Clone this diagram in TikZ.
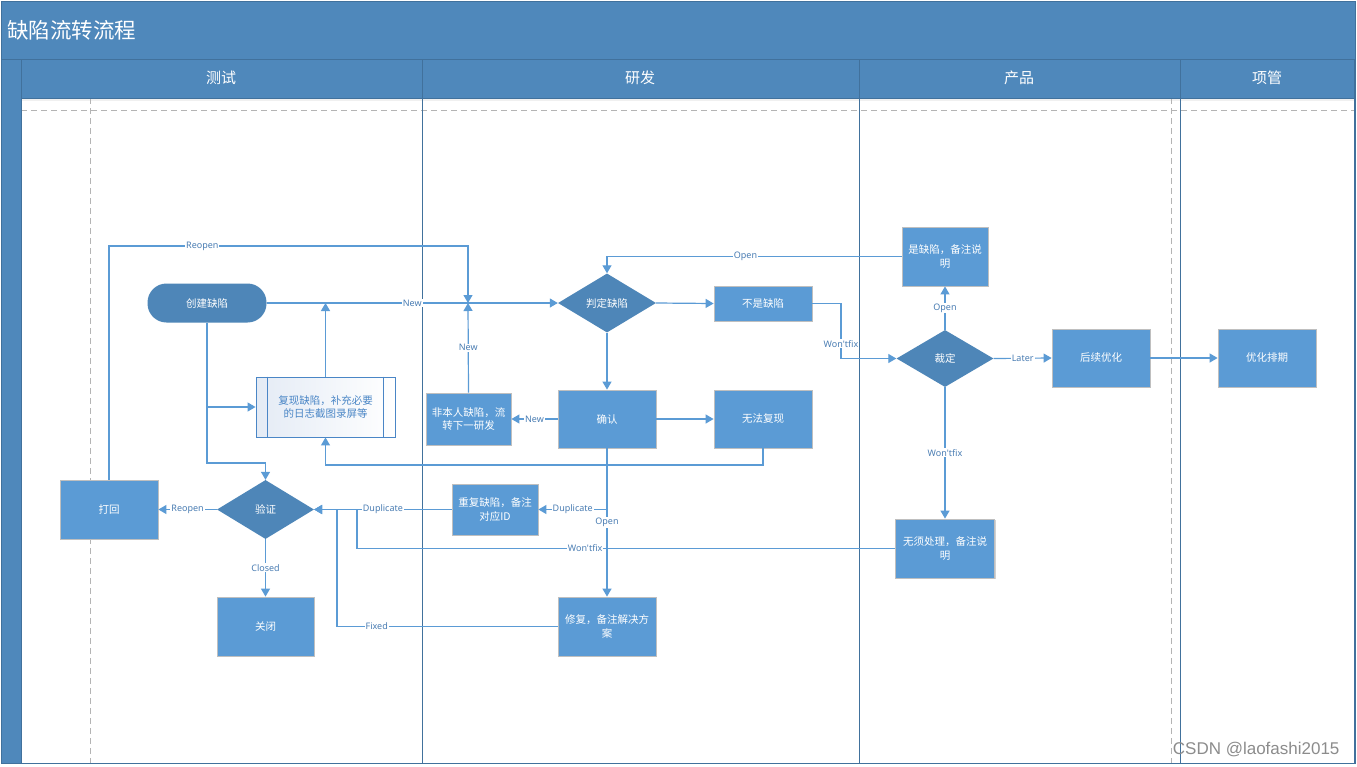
\documentclass[tikz,border=0pt]{standalone}
\usepackage{fontspec}
\setmainfont{Noto Sans CJK SC}
\newfontfamily\wmfont{Liberation Sans}
\newfontfamily\lblfont{Noto Sans}
\usetikzlibrary{shapes.geometric,arrows.meta,shadows}
\definecolor{hdrblue}{HTML}{4F88BB}
\definecolor{frameblue}{HTML}{41719C}
\definecolor{boxblue}{HTML}{5B9BD5}
\definecolor{boxedge}{HTML}{BFBFBF}
\definecolor{diablue}{HTML}{4E86B8}
\definecolor{linkblue}{HTML}{5B9BD5}
\definecolor{lbltext}{HTML}{4A7DB3}
\definecolor{dashgray}{HTML}{B4B4B4}
\definecolor{reprotext}{HTML}{4A86C6}
\definecolor{reproleft}{HTML}{E4EBF5}
\tikzset{
  boxnode/.style={rectangle, fill=boxblue, draw=boxedge, line width=0.8pt, text=white, align=center,
    inner sep=0pt, font=\fontsize{10.5}{13.5}\selectfont,
    drop shadow={shadow xshift=1.2pt, shadow yshift=-1.2pt, opacity=0.18, fill=black}},
  dianode/.style={diamond, fill=diablue, draw=none, text=white, inner sep=0pt, align=center,
    font=\fontsize{10.5}{13.5}\selectfont},
  pillnode/.style={rectangle, rounded corners=19pt, fill=diablue, draw=none, text=white,
    inner sep=0pt, font=\fontsize{10.5}{13.5}\selectfont},
  lbl/.style={fill=white, text=lbltext, inner sep=1pt, font=\lblfont\fontsize{9}{10}\selectfont},
  link/.style={draw=linkblue, line width=1.2pt},
  arr/.style={link, -{Triangle[width=9pt,length=8pt]}},
  lane/.style={draw=frameblue, line width=1pt},
  dashline/.style={draw=dashgray, line width=0.8pt, dash pattern=on 6pt off 4pt},
  hdrtext/.style={text=white, font=\fontsize{15}{18}\selectfont},
}
\newcommand{\apos}{{\char"27}}
\begin{document}
\begin{tikzpicture}[x=1pt,y=-1pt]
\useasboundingbox (0,0) rectangle (1357,766);
\fill[white] (0,0) rectangle (1357,766);
% frame
\fill[hdrblue] (1,1) rectangle (1355,59);
\fill[hdrblue] (1,59) rectangle (21,763);
\fill[hdrblue] (21,59) rectangle (1354,98);
\fill[black!6] (21,98) rectangle (1354,101);
% dashed guides
\draw[dashline] (21,110) -- (1354,110);
\draw[dashline] (90,98) -- (90,763);
\draw[dashline] (1171,98) -- (1171,763);
% lanes
\draw[lane] (1,59) -- (1355,59);
\draw[lane] (21,98) -- (1354,98);
\draw[lane] (21,59) -- (21,763);
\draw[lane] (422,59) -- (422,763);
\draw[lane] (859,59) -- (859,763);
\draw[lane] (1180,59) -- (1180,763);
\draw[lane] (1354,59) -- (1354,763);
\draw[lane] (1,1) rectangle (1355,763);
% titles
\node[anchor=west, text=white, font=\fontsize{21.5}{24}\selectfont, inner sep=0pt] (title) at (7,30) {缺陷流转流程};
\node[hdrtext] (h1) at (221,78) {测试};
\node[hdrtext] (h2) at (640,78) {研发};
\node[hdrtext] (h3) at (1019,78) {产品};
\node[hdrtext] (h4) at (1267,78) {项管};

% nodes
\node[pillnode, minimum width=119pt, minimum height=39pt] (create) at (207,303) {创建缺陷};
\node[rectangle, draw=reprotext, line width=0.9pt, left color=reproleft, right color=white,
  text=reprotext, align=center, inner sep=0pt, minimum width=139pt, minimum height=60pt,
  font=\fontsize{10.5}{13.5}\selectfont] (repro) at (325.5,407) {复现缺陷，补充必要\\的日志截图录屏等};
\draw[draw=reprotext, line width=0.9pt] ([xshift=12pt]repro.north west) -- ([xshift=12pt]repro.south west);
\draw[draw=reprotext, line width=0.9pt] ([xshift=-12pt]repro.north east) -- ([xshift=-12pt]repro.south east);
\node[dianode, minimum width=98pt, minimum height=59pt] (judge) at (607,303) {判定缺陷};
\node[boxnode, minimum width=98pt, minimum height=35pt] (notbug) at (763,303.5) {不是缺陷};
\node[boxnode, minimum width=98pt, minimum height=58pt] (confirm) at (607,419) {确认};
\node[boxnode, minimum width=98pt, minimum height=58pt] (unrepro) at (763,419) {无法复现};
\node[boxnode, minimum width=85pt, minimum height=52pt] (notmine) at (468.5,419) {非本人缺陷，流\\转下一研发};
\node[boxnode, minimum width=86pt, minimum height=59pt] (isbug) at (945,256.5) {是缺陷，备注说\\明};
\node[dianode, minimum width=97pt, minimum height=57pt] (rule) at (945,358.5) {裁定};
\node[boxnode, minimum width=98pt, minimum height=58pt] (later) at (1101,358) {后续优化};
\node[boxnode, minimum width=98pt, minimum height=58pt] (plan) at (1267,358) {优化排期};
\node[boxnode, minimum width=99pt, minimum height=59pt] (nofix) at (945,548.5) {无须处理，备注说\\明};
\node[dianode, minimum width=97pt, minimum height=59pt] (verify) at (265.5,509.5) {验证};
\node[boxnode, minimum width=98pt, minimum height=59pt] (reject) at (109,509.5) {打回};
\node[boxnode, minimum width=97pt, minimum height=59pt] (close) at (265.5,626.5) {关闭};
\node[boxnode, minimum width=86pt, minimum height=51pt] (dup) at (495,509.5) {重复缺陷，备注\\对应ID};
\node[boxnode, minimum width=98pt, minimum height=59pt] (fix) at (607,626.5) {修复，备注解决方\\案};

% helper coordinates
\coordinate (jn) at (468,303);
\coordinate (rtop) at (468,246);
\coordinate (cdown) at (207,463);
\coordinate (udown) at (763,465);
\coordinate (wfx) at (841,303);
\coordinate (wj) at (357,509.5);
\coordinate (fj) at (337,509.5);

% connectors
\draw[arr] (create.east) -- node[lbl]{New} (judge.west);
\draw[arr] (reject.north) -- (reject.north |- rtop) -- node[lbl, pos=0.26]{Reopen} (rtop) -- (jn);
\draw[arr] (notmine.north) -- node[lbl]{New} (jn);
\draw[arr] (create.south) -- (cdown) -| (verify.north);
\draw[arr] (create.south |- repro.west) -- (repro.west);
\draw[arr] (repro.north) -- (repro.north |- create.east);
\draw[arr] (unrepro.south) -- (udown) -| (repro.south);
\draw[arr] (judge.east) -- (notbug.west);
\draw[arr] (judge.south) -- (confirm.north);
\draw[arr] (confirm.west) -- node[lbl]{New} (notmine.east);
\draw[arr] (confirm.east) -- (unrepro.west);
\draw[arr] (confirm.south) -- node[lbl]{Open} (fix.north);
\draw[arr] (confirm.south |- dup.east) -- node[lbl]{Duplicate} (dup.east);
\draw[arr] (dup.west) -- node[lbl]{Duplicate} (verify.east);
\draw[arr] (nofix.west) -- node[lbl, pos=0.576]{Won\apos tfix} (wj |- nofix.west) -- (wj) -- (verify.east);
\draw[arr] (fix.west) -- node[lbl, pos=0.82]{Fixed} (fj |- fix.west) -- (fj) -- (verify.east);
\draw[arr] (verify.west) -- node[lbl]{Reopen} (reject.east);
\draw[arr] (verify.south) -- node[lbl]{Closed} (close.north);
\draw[arr] (notbug.east) -- (notbug.east -| wfx) -- node[lbl, pos=0.73]{Won\apos tfix} (rule.west -| wfx) -- (rule.west);
\draw[arr] (rule.north) -- node[lbl]{Open} (isbug.south);
\draw[arr] (isbug.west) -- node[lbl, pos=0.53]{Open} (judge.north |- isbug.west) -- (judge.north);
\draw[arr] (rule.east) -- node[lbl]{Later} (later.west);
\draw[arr] (later.east) -- (plan.west);
\draw[arr] (rule.south) -- node[lbl]{Won\apos tfix} (nofix.north);

% watermark
\node[anchor=east, text=black!45, font=\wmfont\fontsize{17}{19}\selectfont] (wm) at (1343,750) {CSDN @laofashi2015};
\end{tikzpicture}
\end{document}
